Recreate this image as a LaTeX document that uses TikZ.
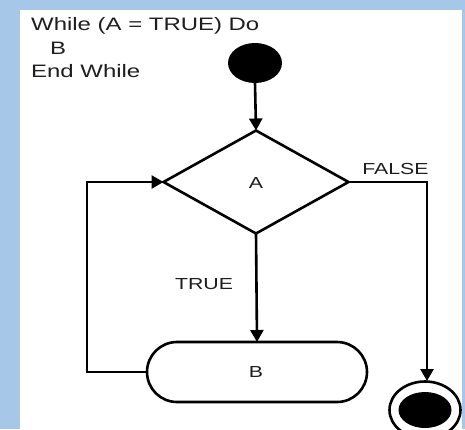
\documentclass[tikz,border=0pt]{standalone}
\usepackage{fontspec}
\setmainfont{Liberation Sans}
\usetikzlibrary{shapes.geometric,shapes.misc,arrows.meta}
\definecolor{slideblue}{RGB}{167,199,233}
\definecolor{ink}{RGB}{30,30,30}
% horizontally widened text
\newcommand{\hstretch}[1]{\scalebox{1.33}[1]{#1}}
\begin{document}
\begin{tikzpicture}[x=1pt,y=-1pt,
  line/.style={line width=2.6pt, draw=black},
  flow/.style={line, -{Triangle[length=12pt,width=13pt]}},
  lbl/.style={font=\fontsize{16}{19}\selectfont, text=ink, inner sep=0pt},
  code/.style={font=\fontsize{18}{23}\selectfont, text=ink, inner sep=0pt, anchor=base west},
  initial/.style={ellipse, fill=black, minimum width=54pt, minimum height=40pt, inner sep=0pt, outer sep=0pt},
  decision/.style={diamond, line, minimum width=185pt, minimum height=103pt, inner sep=0pt, outer sep=0pt},
  activity/.style={rounded rectangle, line, minimum width=220pt, minimum height=60pt, inner sep=0pt, outer sep=0pt},
  final/.style={ellipse, line, minimum width=71pt, minimum height=57pt, inner sep=0pt, outer sep=0pt},
  finaldot/.style={ellipse, fill=black, minimum width=53pt, minimum height=36pt, inner sep=0pt}]
  \useasboundingbox (0,0) rectangle (465,429);
  % slide background and white panel
  \fill[slideblue] (0,0) rectangle (465,429);
  \fill[white] (20,10) rectangle (462,429);

  % pseudo code
  \node[code] (c1) at (31,30.7) {\hstretch{While (A = TRUE) Do}};
  \node[code] (c2) at (50,54) {\hstretch{B}};
  \node[code] (c3) at (31,77) {\hstretch{End While}};

  % activity diagram
  \node[initial] (start) at (255,63) {};
  \node[decision] (dec) at (256,182) {};
  \node[lbl] (declbl) at (256,182.5) {\hstretch{A}};
  \node[activity] (act) at (257,372) {};
  \node[lbl] (actlbl) at (256,371.5) {\hstretch{B}};
  \node[final] (stop) at (425,410) {};
  \node[finaldot] (stopdot) at (425,410) {};

  \coordinate (fc) at (427,182);
  \coordinate (ft) at (427,381);
  \coordinate (lb) at (87,372);
  \coordinate (lt) at (87,182);

  \draw[flow] (start.south) -- (dec.north);
  \draw[flow] (dec.south) -- (act.north);
  \draw[flow] (dec.east) -- (fc) -- (ft);
  \draw[flow] (act.west) -- (lb) -- (lt) -- (dec.west);

  \node[lbl] (truelbl) at (204,284) {\hstretch{TRUE}};
  \node[lbl] (falselbl) at (395.5,168.5) {\hstretch{FALSE}};
\end{tikzpicture}
\end{document}
